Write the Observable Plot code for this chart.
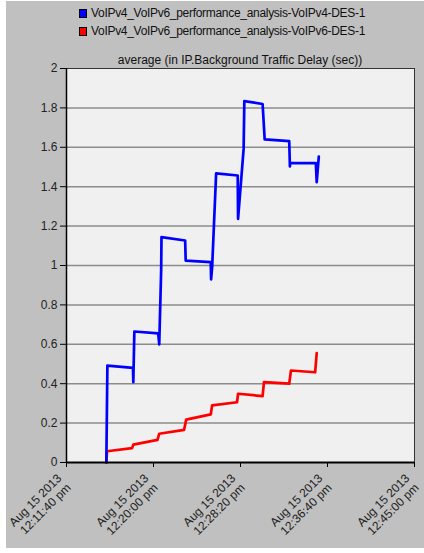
<!DOCTYPE html>
<html><head><meta charset="utf-8">
<script src="https://cdn.jsdelivr.net/npm/d3@7"></script>
<script src="https://cdn.jsdelivr.net/npm/@observablehq/plot@0.6"></script>
<style>
body{margin:0;background:#fff;font-family:"Liberation Sans",Arial,sans-serif;}
#wrap{position:absolute;left:6px;top:1px;width:418px;height:547px;background:#c0c0c0;overflow:hidden}
.leg{position:absolute;left:73px;font-size:12px;letter-spacing:-0.3px;color:#111;white-space:nowrap;line-height:14px}
.sw{display:inline-block;width:6px;height:7px;border:1px solid #000;margin-right:4px;vertical-align:-1px}
#title{position:absolute;top:52px;left:0;width:468px;text-align:center;font-size:12px;line-height:14px;color:#111}
#chart{position:absolute;left:0;top:61px}
</style></head><body>
<div id="wrap">
  <div class="leg" id="leg0" style="top:5px"></div>
  <div class="leg" id="leg1" style="top:23px"></div>
  <div id="title"></div>
  <div id="chart"></div>
</div>
<script>
const seriesNames = ["VoIPv4_VoIPv6_performance_analysis-VoIPv4-DES-1","VoIPv4_VoIPv6_performance_analysis-VoIPv6-DES-1"];
const seriesColors = ["#0000ff","#ff0000"];
const chartTitle = "average (in IP.Background Traffic Delay (sec))";

const ipv4Times = ["12:15:29","12:15:35","12:18:02","12:18:04","12:18:10","12:20:27","12:20:33","12:20:44","12:20:46","12:23:02","12:23:05","12:25:29","12:25:31","12:25:37","12:26:00","12:28:04","12:28:06","12:28:38","12:28:42","12:30:27","12:30:39","12:33:00","12:33:04","12:33:05","12:35:33","12:35:38","12:35:50"];
const ipv4Values = [0,0.492,0.48,0.408,0.665,0.655,0.6,0.975,1.144,1.127,1.025,1.017,0.93,0.99,1.468,1.457,1.237,1.592,1.834,1.82,1.64,1.631,1.503,1.52,1.52,1.423,1.553];

const ipv6Times = ["12:15:29","12:15:33","12:17:57","12:18:04","12:20:23","12:20:33","12:22:56","12:23:08","12:25:29","12:25:37","12:28:00","12:28:06","12:30:27","12:30:35","12:33:00","12:33:10","12:35:29","12:35:38"];
const ipv6Values = [0,0.057,0.073,0.091,0.115,0.146,0.166,0.218,0.244,0.29,0.306,0.349,0.337,0.408,0.4,0.467,0.458,0.555];

const xTickTimes = ["12:11:40","12:20:00","12:28:20","12:36:40","12:45:00"];
const xTickLabels = ["Aug 15 2013\n12:11:40 pm","Aug 15 2013\n12:20:00 pm","Aug 15 2013\n12:28:20 pm","Aug 15 2013\n12:36:40 pm","Aug 15 2013\n12:45:00 pm"];
const yTicks = [0,0.2,0.4,0.6,0.8,1,1.2,1.4,1.6,1.8,2];
const yTickLabels = ["0","0.2","0.4","0.6","0.8","1","1.2","1.4","1.6","1.8","2"];

const parseT = s => new Date(`2013-08-15T${s}Z`);
const ipv4 = ipv4Times.map((t,i)=>({t:parseT(t), v:ipv4Values[i]}));
const ipv6 = ipv6Times.map((t,i)=>({t:parseT(t), v:ipv6Values[i]}));
const xTicks = xTickTimes.map(parseT);

seriesNames.forEach((n,i)=>{
  const el = document.getElementById("leg"+i);
  el.innerHTML = `<span class="sw" style="background:${seriesColors[i]}"></span>`;
  el.appendChild(document.createTextNode(n));
});
document.getElementById("title").textContent = chartTitle;

const plot = Plot.plot({
  width:418, height:486,
  marginLeft:60, marginRight:10, marginTop:6, marginBottom:86,
  style:{background:"transparent", fontFamily:"'Liberation Sans', Arial, sans-serif", fontSize:"12px", color:"#222"},
  x:{type:"utc", domain:[xTicks[0], xTicks[xTicks.length-1]]},
  y:{domain:[0,2]},
  marks:[
    Plot.frame({fill:"#f0f0f0", stroke:null}),
    Plot.gridY(yTicks.slice(1,-1), {stroke:"#8c8c8c", strokeOpacity:1, strokeWidth:1.5}),
    Plot.frame({stroke:"#333", strokeWidth:1}),
    Plot.line(ipv6, {x:"t", y:"v", stroke:seriesColors[1], strokeWidth:2.7}),
    Plot.line(ipv4, {x:"t", y:"v", stroke:seriesColors[0], strokeWidth:2.7}),
    Plot.ruleY([0], {stroke:"#000", strokeWidth:2}),
    Plot.ruleX([xTicks[0]], {stroke:"#000", strokeWidth:1.5}),
    Plot.axisY(yTicks, {tickSize:6, tickPadding:3, stroke:"#000", tickFormat:d=>yTickLabels[yTicks.indexOf(d)], label:null, fill:"#222"}),
    Plot.axisX(xTicks, {tickSize:5, stroke:"#000", tickFormat:()=>"", label:null}),
    Plot.text(xTicks, {x:d=>d, text:(d,i)=>xTickLabels[i], frameAnchor:"bottom", rotate:-45, textAnchor:"end", lineAnchor:"top", dx:-11, dy:10, fontSize:12, lineHeight:1.1, fill:"#222"})
  ]
});
document.getElementById("chart").appendChild(plot);
</script>
</body></html>
